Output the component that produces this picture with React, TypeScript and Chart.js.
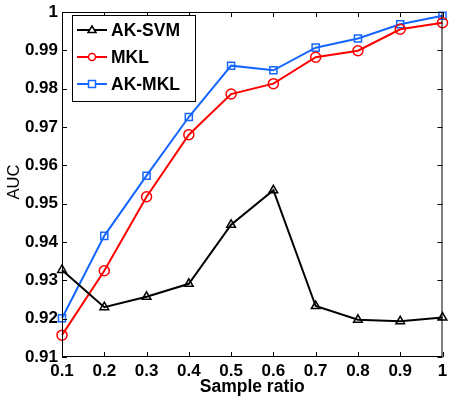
import React, { useEffect, useRef } from "react";
import { Chart, registerables } from "chart.js";

Chart.register(...registerables);

const sampleRatios = [0.1, 0.2, 0.3, 0.4, 0.5, 0.6, 0.7, 0.8, 0.9, 1.0];
const akSvm = [0.9327, 0.923, 0.9257, 0.9291, 0.9445, 0.9535, 0.9233, 0.9197, 0.9193, 0.9203];
const mkl = [0.9157, 0.9325, 0.9518, 0.968, 0.9786, 0.9813, 0.9882, 0.9899, 0.9955, 0.9972];
const akMkl = [0.9201, 0.9416, 0.9573, 0.9726, 0.986, 0.9848, 0.9907, 0.9931, 0.9968, 0.999];
const seriesNames = ["AK-SVM", "MKL", "AK-MKL"];
const seriesColors = ["#000000", "#ff0000", "#1566ff"];
const seriesMarkers = ["triangle", "circle", "rect"];
const xTitle = "Sample ratio";
const yTitle = "AUC";

const fmt = (v: number) => String(parseFloat(Number(v).toFixed(2)));

const framePlugin = {
  id: "frame",
  afterDraw(chart: any) {
    const { ctx, chartArea } = chart;
    const { left, right, top, bottom } = chartArea;
    const xs = chart.scales.x;
    const ys = chart.scales.y;
    ctx.save();
    ctx.strokeStyle = "#000";
    ctx.lineWidth = 1;
    ctx.strokeRect(left + 0.5, top + 0.5, right - left - 1, bottom - top - 1);
    const tl = 5;
    ctx.beginPath();
    xs.ticks.forEach((t: any) => {
      const px = Math.round(xs.getPixelForValue(t.value)) + 0.5;
      ctx.moveTo(px, bottom);
      ctx.lineTo(px, bottom - tl);
      ctx.moveTo(px, top);
      ctx.lineTo(px, top + tl);
    });
    ys.ticks.forEach((t: any) => {
      const py = Math.round(ys.getPixelForValue(t.value)) + 0.5;
      ctx.moveTo(left, py);
      ctx.lineTo(left + tl, py);
      ctx.moveTo(right, py);
      ctx.lineTo(right - tl, py);
    });
    ctx.stroke();

    // axis titles
    ctx.fillStyle = "#000";
    ctx.font = "bold 17.5px 'Liberation Sans', Arial, sans-serif";
    ctx.textAlign = "center";
    ctx.textBaseline = "middle";
    ctx.fillText(xTitle, (left + right) / 2, 387);
    ctx.save();
    ctx.translate(14, 182);
    ctx.rotate(-Math.PI / 2);
    ctx.font = "16.5px 'Liberation Sans', Arial, sans-serif";
    ctx.fillText(yTitle, 0, 0);
    ctx.restore();

    // legend
    const lx = 72, ly = 15, lw = 123, lh = 86;
    ctx.fillStyle = "#fff";
    ctx.fillRect(lx, ly, lw, lh);
    ctx.strokeStyle = "#000";
    ctx.lineWidth = 1;
    ctx.strokeRect(lx + 0.5, ly + 0.5, lw, lh);
    const rows = [30, 57, 84];
    seriesNames.forEach((name, i) => {
      const y = rows[i];
      ctx.strokeStyle = seriesColors[i];
      ctx.lineWidth = 2;
      ctx.beginPath();
      ctx.moveTo(77, y);
      ctx.lineTo(107, y);
      ctx.stroke();
      ctx.lineWidth = 1.5;
      const mx = 92;
      ctx.beginPath();
      if (seriesMarkers[i] === "triangle") {
        ctx.moveTo(mx, y - 4);
        ctx.lineTo(mx + 4, y + 2.5);
        ctx.lineTo(mx - 4, y + 2.5);
        ctx.closePath();
      } else if (seriesMarkers[i] === "circle") {
        ctx.arc(mx, y, 3.5, 0, Math.PI * 2);
      } else {
        ctx.rect(mx - 3.5, y - 3.5, 7, 7);
      }
      ctx.fillStyle = "#fff";
      ctx.fill();
      ctx.stroke();
      ctx.fillStyle = "#000";
      ctx.font = "bold 17.5px 'Liberation Sans', Arial, sans-serif";
      ctx.textAlign = "left";
      ctx.textBaseline = "middle";
      ctx.fillText(name, 111, y + 1);
    });
    ctx.restore();
  },
};

export default function App() {
  const ref = useRef<HTMLCanvasElement>(null);
  useEffect(() => {
    if (!ref.current) return;
    const allData = [akSvm, mkl, akMkl];
    const chart = new Chart(ref.current, {
      type: "line",
      data: {
        datasets: seriesNames.map((name, i) => ({
          label: name,
          data: sampleRatios.map((x, j) => ({ x, y: allData[i][j] })),
          borderColor: seriesColors[i],
          backgroundColor: "rgba(255,255,255,0)",
          borderWidth: 2,
          pointStyle: seriesMarkers[i] as any,
          pointRadius: 5,
          pointBorderWidth: 1.5,
          pointBorderColor: seriesColors[i],
          pointBackgroundColor: "rgba(255,255,255,0)",
          tension: 0,
          fill: false,
          clip: false,
        })),
      },
      plugins: [framePlugin],
      options: {
        animation: false,
        responsive: false,
        maintainAspectRatio: false,
        layout: { padding: { top: 12, right: 5, left: 0, bottom: 0 } },
        plugins: { legend: { display: false }, tooltip: { enabled: false } },
        scales: {
          x: {
            type: "linear",
            min: 0.1,
            max: 1,
            grid: { display: false, drawTicks: false },
            border: { display: false },
            ticks: {
              stepSize: 0.1,
              color: "#000",
              padding: 4,
              maxRotation: 0,
              autoSkip: false,
              font: { family: "'Liberation Sans', Arial, sans-serif", size: 17, weight: "bold" },
              callback: (v: any) => fmt(v),
            },
            afterFit: (s: any) => {
              s.height = 47;
              s.paddingRight = 0;
              s.paddingLeft = 0;
            },
          },
          y: {
            type: "linear",
            min: 0.91,
            max: 1,
            grid: { display: false, drawTicks: false },
            border: { display: false },
            ticks: {
              stepSize: 0.01,
              color: "#000",
              padding: 4,
              autoSkip: false,
              font: { family: "'Liberation Sans', Arial, sans-serif", size: 17, weight: "bold" },
              callback: (v: any) => fmt(v),
            },
            afterFit: (s: any) => {
              s.width = 62;
              s.paddingTop = 0;
              s.paddingBottom = 0;
            },
          },
        },
      } as any,
    });
    return () => chart.destroy();
  }, []);
  return (
    <div style={{ position: "fixed", left: 0, top: 0, width: 449, height: 404, background: "#fff" }}>
      <canvas ref={ref} width={449} height={404} style={{ display: "block" }} />
    </div>
  );
}
